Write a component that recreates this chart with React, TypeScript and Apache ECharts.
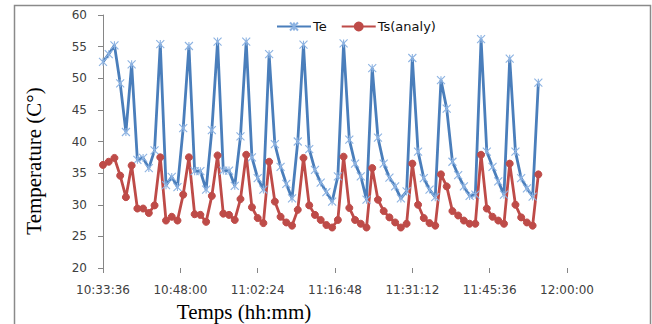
import React, { useEffect, useRef } from "react";
import * as echarts from "echarts";

// Sample times (hh:mm:ss)
const times = [
  "10:33:36", "10:34:40", "10:35:44", "10:36:48", "10:37:52", "10:38:56", "10:40:00", "10:41:04",
  "10:42:08", "10:43:12", "10:44:16", "10:45:20", "10:46:24", "10:47:28", "10:48:32", "10:49:36",
  "10:50:40", "10:51:44", "10:52:48", "10:53:52", "10:54:56", "10:56:00", "10:57:04", "10:58:08",
  "10:59:12", "11:00:16", "11:01:20", "11:02:24", "11:03:28", "11:04:32", "11:05:36", "11:06:40",
  "11:07:44", "11:08:48", "11:09:52", "11:10:56", "11:12:00", "11:13:04", "11:14:08", "11:15:12",
  "11:16:16", "11:17:20", "11:18:24", "11:19:28", "11:20:32", "11:21:36", "11:22:40", "11:23:44",
  "11:24:48", "11:25:52", "11:26:56", "11:28:00", "11:29:04", "11:30:08", "11:31:12", "11:32:16",
  "11:33:20", "11:34:24", "11:35:28", "11:36:32", "11:37:36", "11:38:40", "11:39:44", "11:40:48",
  "11:41:52", "11:42:56", "11:44:00", "11:45:04", "11:46:08", "11:47:12", "11:48:16", "11:49:20",
  "11:50:24", "11:51:28", "11:52:32", "11:53:36", "11:54:40",
];

const teValues = [
  52.6, 53.8, 55.2, 49.2, 41.5, 52.2, 37.1, 37.4, 35.8, 38.6,
  55.4, 33.1, 34.4, 32.8, 42.1, 55.1, 35.3, 35.3, 32.4, 41.8,
  55.8, 35.4, 35.4, 33.0, 40.8, 55.8, 37.5, 34.2, 32.4, 53.8,
  39.6, 36.0, 33.3, 31.0, 40.0, 55.3, 38.8, 35.5, 33.5, 32.0,
  30.5, 34.5, 55.5, 40.3, 36.5, 34.5, 30.8, 51.6, 40.6, 36.5,
  34.3, 32.9, 31.0, 32.1, 53.2, 38.4, 34.2, 32.4, 31.2, 49.7,
  45.2, 36.8, 34.7, 32.9, 31.4, 31.6, 56.2, 38.4, 36.0, 33.7,
  31.6, 53.1, 38.4, 34.2, 32.6, 31.3, 49.3,
];

const tsValues = [
  36.3, 36.8, 37.4, 34.6, 31.2, 36.2, 29.4, 29.4, 28.7, 29.9,
  37.5, 27.5, 28.1, 27.5, 31.6, 37.5, 28.5, 28.4, 27.3, 31.4,
  37.8, 28.6, 28.4, 27.6, 30.9, 37.9, 29.6, 27.9, 27.1, 36.8,
  30.5, 28.1, 27.2, 26.7, 29.2, 37.4, 29.9, 28.4, 27.6, 26.8,
  26.4, 27.6, 37.6, 29.5, 27.6, 27.0, 26.4, 35.8, 30.8, 29.0,
  28.0, 27.2, 26.4, 27.0, 36.5, 30.0, 27.9, 27.1, 26.7, 34.8,
  32.9, 29.0, 28.3, 27.5, 27.0, 27.0, 37.9, 29.4, 28.1, 27.5,
  27.0, 36.5, 30.0, 28.0, 27.2, 26.7, 34.8,
];

const xTickLabels = ["10:33:36", "10:48:00", "11:02:24", "11:16:48", "11:31:12", "11:45:36", "12:00:00"];
const yMin = 20;
const yMax = 60;
const yStep = 5;

const seriesNames = ["Te", "Ts(analy)"];

const toSec = (s: string) => {
  const [h, m, ss] = s.split(":").map(Number);
  return h * 3600 + m * 60 + ss;
};
const pad = (n: number) => (n < 10 ? "0" + n : "" + n);
const fmt = (v: number) => {
  const t = Math.round(v);
  const h = Math.floor(t / 3600);
  const m = Math.floor((t % 3600) / 60);
  const s = t % 60;
  return `${pad(h)}:${pad(m)}:${pad(s)}`;
};

export default function App() {
  const ref = useRef<HTMLDivElement>(null);
  useEffect(() => {
    if (!ref.current) return;
    const chart = echarts.init(ref.current, undefined, { renderer: "svg" });
    const xMin = toSec(xTickLabels[0]);
    const xMax = toSec(xTickLabels[xTickLabels.length - 1]);
    const xInt = toSec(xTickLabels[1]) - xMin;
    const labelFont = { fontFamily: "DejaVu Sans", fontSize: 12, color: "#404040" };
    const axisGray = "#868686";
    chart.setOption({
      animation: false,
      backgroundColor: "#ffffff",
      grid: { left: 103, right: 85, top: 15, bottom: 56 },
      legend: {
        left: 271,
        top: 15,
        itemWidth: 34,
        itemHeight: 10,
        itemGap: 14,
        textStyle: { fontFamily: "DejaVu Sans", fontSize: 13, color: "#111", padding: [0, 0, 0, -3] },
        data: seriesNames,
      },
      xAxis: {
        type: "value",
        min: xMin,
        max: xMax,
        interval: xInt,
        axisLine: { show: false },
        axisTick: { show: true, length: 5, lineStyle: { color: axisGray } },
        axisLabel: { ...labelFont, margin: 16, formatter: (v: number) => fmt(v) },
        splitLine: { show: false },
      },
      yAxis: {
        type: "value",
        min: yMin,
        max: yMax,
        interval: yStep,
        axisLine: { show: true, lineStyle: { color: axisGray } },
        axisTick: { show: true, length: 5, lineStyle: { color: axisGray } },
        axisLabel: { ...labelFont, margin: 16 },
        splitLine: { show: false },
      },
      series: [
        {
          name: seriesNames[0],
          type: "line",
          data: times.map((t, i) => [toSec(t), teValues[i]]),
          showAllSymbol: true,
          symbol: "path://M0 0L10 10M10 0L0 10M5 0L5 10",
          symbolSize: 8,
          lineStyle: { color: "#4A7EBB", width: 2.8 },
          itemStyle: { color: "#4A7EBB", borderColor: "#8DB3E2", borderWidth: 1.1 },
        },
        {
          name: seriesNames[1],
          type: "line",
          data: times.map((t, i) => [toSec(t), tsValues[i]]),
          showAllSymbol: true,
          symbol: "circle",
          symbolSize: 7,
          lineStyle: { color: "#BE4B48", width: 2.8 },
          itemStyle: { color: "#BE4B48", borderColor: "#BE4B48", borderWidth: 1 },
        },
      ],
      graphic: [
        {
          type: "rect",
          shape: { x: 14.5, y: 5.5, width: 636, height: 340 },
          style: { fill: "none", stroke: "#8a8a8a", lineWidth: 1.5 },
          silent: true,
        },
        {
          type: "text",
          x: 34,
          y: 161,
          rotation: Math.PI / 2,
          style: {
            text: "Temperature (C°)",
            font: "21px 'Liberation Serif'",
            fill: "#000",
            textAlign: "center",
            textVerticalAlign: "middle",
          },
        },
        {
          type: "text",
          x: 244,
          y: 312,
          style: {
            text: "Temps (hh:mm)",
            font: "21px 'Liberation Serif'",
            fill: "#000",
            textAlign: "center",
            textVerticalAlign: "middle",
          },
        },
      ],
    });
    return () => chart.dispose();
  }, []);
  return (
    <div
      ref={ref}
      style={{ position: "fixed", left: 0, top: 0, width: 652, height: 324 }}
    />
  );
}
